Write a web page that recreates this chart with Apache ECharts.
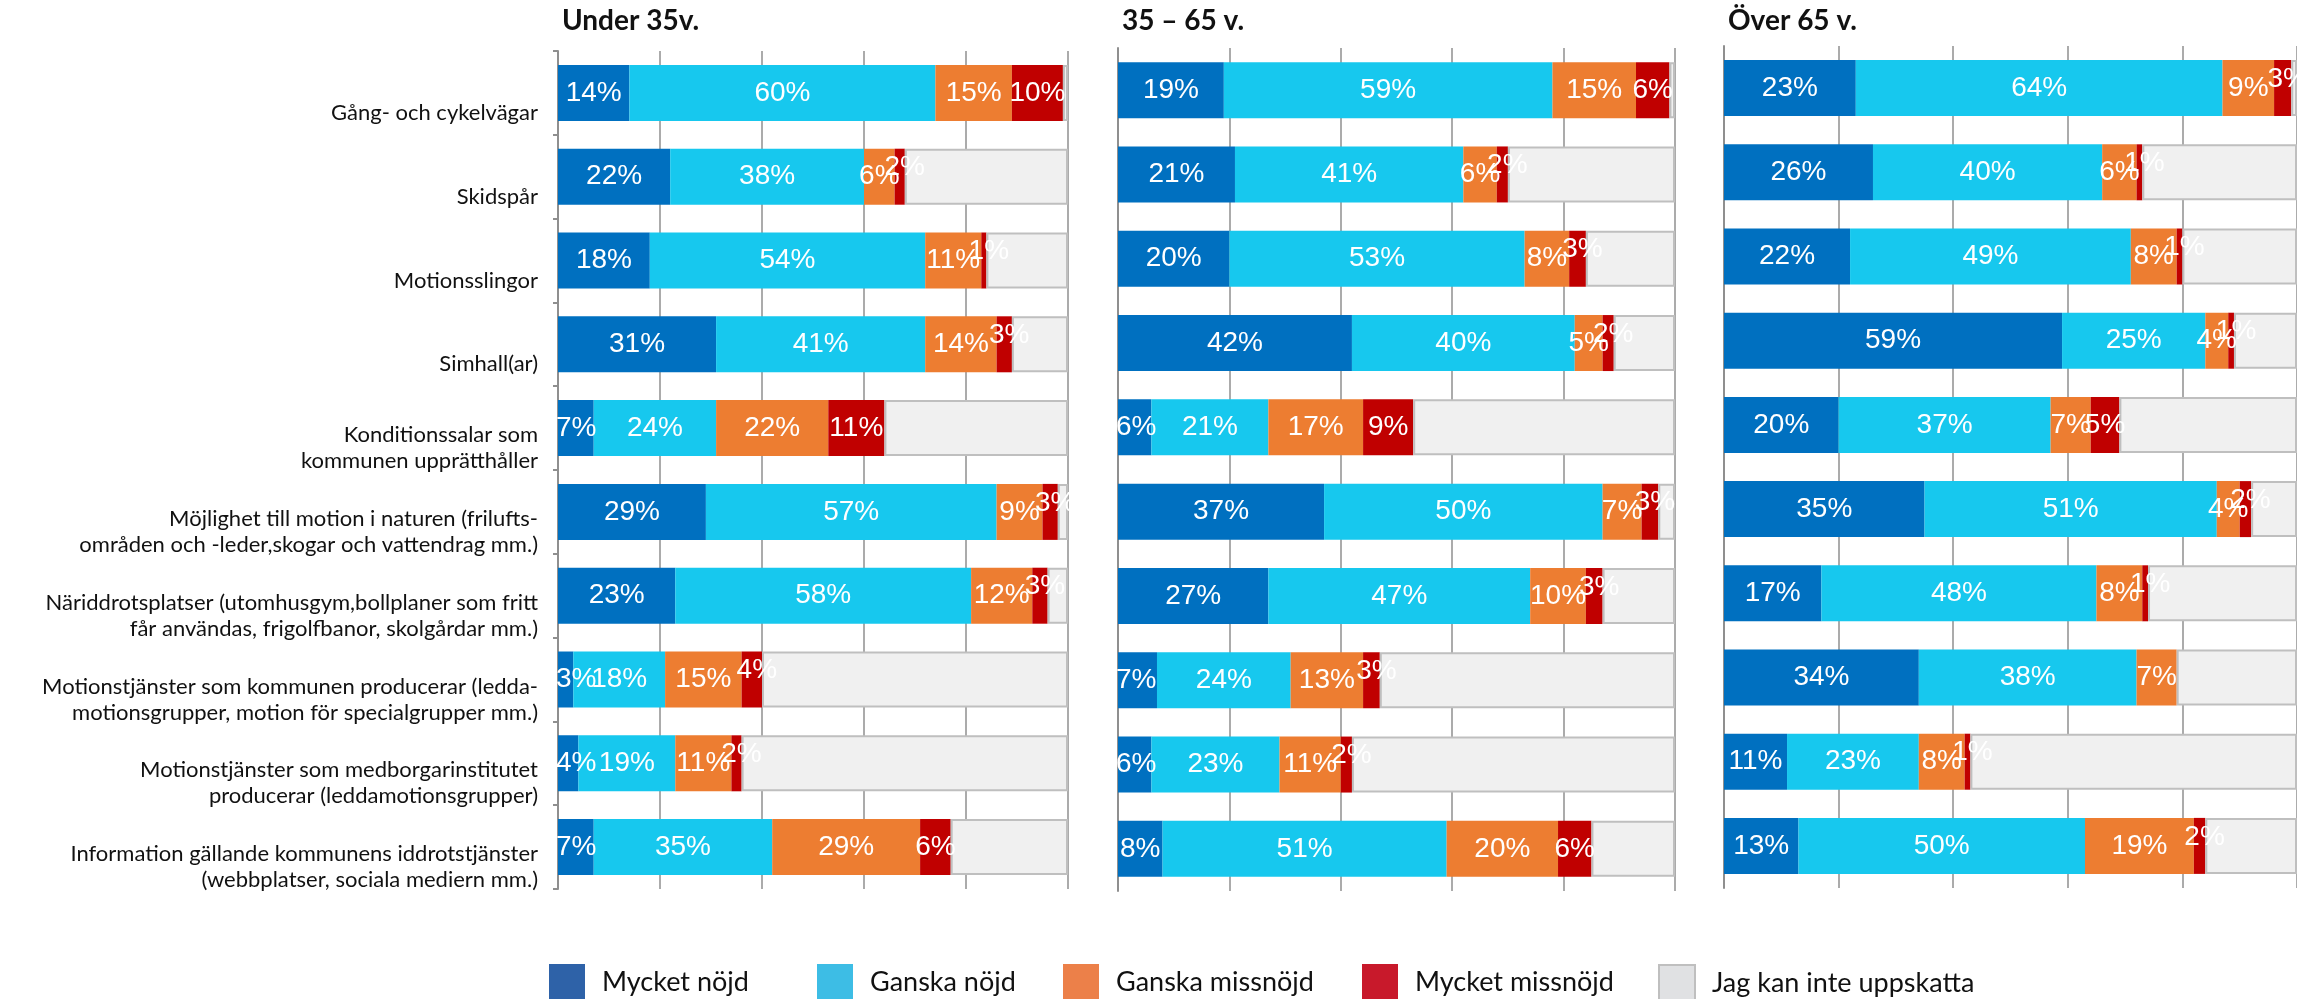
<!DOCTYPE html>
<html lang="sv">
<head>
<meta charset="utf-8">
<title>Nöjdhet med kommunens motionsmöjligheter per åldersgrupp</title>
<script src="https://cdn.jsdelivr.net/npm/echarts@6/dist/echarts.min.js"></script>
<style>
  html, body { margin: 0; padding: 0; background: #fff; }
  #chart { width: 2297px; height: 999px; }
</style>
</head>
<body>
<div id="chart"></div>
<script>
// Facilities / services asked about (top to bottom)
const categories = [
  'Gång- och cykelvägar',
  'Skidspår',
  'Motionsslingor',
  'Simhall(ar)',
  'Konditionssalar som\nkommunen upprätthåller',
  'Möjlighet till motion i naturen (frilufts-\nområden och -leder,skogar och vattendrag mm.)',
  'Näriddrotsplatser (utomhusgym,bollplaner som fritt\nfår användas, frigolfbanor, skolgårdar mm.)',
  'Motionstjänster som kommunen producerar (ledda-\nmotionsgrupper, motion för specialgrupper mm.)',
  'Motionstjänster som medborgarinstitutet\nproducerar (leddamotionsgrupper)',
  'Information gällande kommunens iddrotstjänster\n(webbplatser, sociala mediern mm.)'
];

const ageGroups = ['Under 35v.', '35 – 65 v.', 'Över 65 v.'];

const answerNames = ['Mycket nöjd', 'Ganska nöjd', 'Ganska missnöjd', 'Mycket missnöjd', 'Jag kan inte uppskatta'];

// Under 35 år (%)
const u35MycketNojd     = [14, 22, 18, 31,  7, 29, 23,  3,  4,  7];
const u35GanskaNojd     = [60, 38, 54, 41, 24, 57, 58, 18, 19, 35];
const u35GanskaMissnojd = [15,  6, 11, 14, 22,  9, 12, 15, 11, 29];
const u35MycketMissnojd = [10,  2,  1,  3, 11,  3,  3,  4,  2,  6];
const u35KanInte        = [ 1, 32, 16, 11, 36,  2,  4, 60, 64, 23];

// 35 – 65 år (%)
const m35MycketNojd     = [19, 21, 20, 42,  6, 37, 27,  7,  6,  8];
const m35GanskaNojd     = [59, 41, 53, 40, 21, 50, 47, 24, 23, 51];
const m35GanskaMissnojd = [15,  6,  8,  5, 17,  7, 10, 13, 11, 20];
const m35MycketMissnojd = [ 6,  2,  3,  2,  9,  3,  3,  3,  2,  6];
const m35KanInte        = [ 1, 30, 16, 11, 47,  3, 13, 53, 58, 15];

// Över 65 år (%)
const o65MycketNojd     = [23, 26, 22, 59, 20, 35, 17, 34, 11, 13];
const o65GanskaNojd     = [64, 40, 49, 25, 37, 51, 48, 38, 23, 50];
const o65GanskaMissnojd = [ 9,  6,  8,  4,  7,  4,  8,  7,  8, 19];
const o65MycketMissnojd = [ 3,  1,  1,  1,  5,  2,  1,  0,  1,  2];
const o65KanInte        = [ 1, 27, 20, 11, 31,  8, 26, 21, 57, 16];

const panelValues = [
  [u35MycketNojd, u35GanskaNojd, u35GanskaMissnojd, u35MycketMissnojd, u35KanInte],
  [m35MycketNojd, m35GanskaNojd, m35GanskaMissnojd, m35MycketMissnojd, m35KanInte],
  [o65MycketNojd, o65GanskaNojd, o65GanskaMissnojd, o65MycketMissnojd, o65KanInte]
];

// ---- styling -------------------------------------------------------------
const barColors    = ['#0070C0', '#17C8EE', '#ED7D31', '#C00000', '#F0F0F0'];
const legendColors = ['#2E62A8', '#3DBDE5', '#EC8049', '#C8192B', '#E0E1E3'];
const gridColor = '#8f8f8f';
const textFont = 'Lato, "Open Sans", "Noto Sans", sans-serif';
const valueFont = '"Liberation Sans", Arial, sans-serif';
const valueFontSize = 28;

const panels = [
  { left: 558,  top: 51, width: 510, height: 838 },
  { left: 1118, top: 48, width: 557, height: 843 },
  { left: 1724, top: 46, width: 574, height: 842 }
];
const legendLeft = [549, 817, 1063, 1362, 1658];

// approximate width of a "NN%" label in the value font
function labelWidth(v) {
  return (String(v).length * 0.556 + 0.889) * valueFontSize;
}

const option = {
  animation: false,
  backgroundColor: '#ffffff',
  title: ageGroups.map((g, i) => ({
    text: g,
    left: panels[i].left + 4,
    top: 7,
    padding: 0,
    textStyle: { fontFamily: textFont, fontWeight: 'bold', fontSize: 28, color: '#111' }
  })),
  legend: answerNames.map((name, i) => ({
    left: legendLeft[i],
    top: 964,
    padding: 0,
    itemWidth: 36,
    itemHeight: 37,
    selectedMode: false,
    data: [{ name: name, icon: 'rect', itemStyle: { color: legendColors[i] } }],
    textStyle: { fontFamily: textFont, fontSize: 27, color: '#111', padding: [0, 0, 0, 12] }
  })),
  grid: panels.map(p => ({ left: p.left, top: p.top, width: p.width, height: p.height, containLabel: false })),
  xAxis: panels.map((p, i) => ({
    type: 'value',
    gridIndex: i,
    min: 0,
    max: 100,
    interval: 20,
    axisLabel: { show: false },
    axisLine: { show: false },
    axisTick: { show: false },
    splitLine: { show: true, lineStyle: { color: gridColor, width: 1.5 } }
  })),
  yAxis: panels.map((p, i) => ({
    type: 'category',
    gridIndex: i,
    data: categories,
    inverse: true,
    axisLine: { show: true, lineStyle: { color: gridColor, width: 2 } },
    axisTick: { show: i === 0, length: 5, lineStyle: { color: gridColor, width: 2 } },
    axisLabel: {
      show: i === 0,
      interval: 0,
      margin: 20,
      align: 'right',
      color: '#111',
      // a spacer line on top sets the text a little below the bar centre
      formatter: v => '{gap| }\n' + v.split('\n').map(l => '{t|' + l + '}').join('\n'),
      rich: {
        gap: { fontSize: 10, lineHeight: 40 },
        t: { fontFamily: textFont, fontSize: 22, lineHeight: 26, color: '#111', align: 'right' }
      }
    }
  })),
  series: []
};

panelValues.forEach((arrays, pi) => {
  arrays.forEach((values, si) => {
    const isRest = si === 4;
    option.series.push({
      type: 'bar',
      name: answerNames[si],
      xAxisIndex: pi,
      yAxisIndex: pi,
      stack: 'panel' + pi,
      barWidth: 56,
      itemStyle: isRest
        ? { color: barColors[si], borderColor: '#BFBFBF', borderWidth: 2 }
        : { color: barColors[si] },
      data: values.map(v => {
        const item = { value: v };
        if (isRest) return item;
        const offset = [0, 0];
        // first segment: keep the label inside the plot area
        if (si === 0) {
          const seg = v / 100 * panels[pi].width;
          const over = labelWidth(v) / 2 - seg / 2;
          if (over > 0) offset[0] = over - 2;
        }
        // small red segments: label lifted a little
        if (si === 3 && v <= 4) { offset[0] = 5; offset[1] = -9; }
        item.label = { offset: offset };
        return item;
      }),
      label: {
        show: !isRest,
        position: 'inside',
        color: '#ffffff',
        fontFamily: valueFont,
        fontSize: valueFontSize,
        formatter: p => (p.value > 0 ? p.value + '%' : '')
      }
    });
  });
});

const chart = echarts.init(document.getElementById('chart'), null, { renderer: 'canvas' });
chart.setOption(option);
</script>
</body>
</html>
